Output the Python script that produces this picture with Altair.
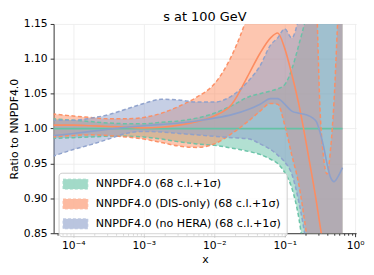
import altair as alt
import pandas as pd
import math

# x grid (momentum fraction)
x_vals = [5.01e-5, 1e-4, 1.778e-4, 3.162e-4, 5.623e-4, 1e-3, 1.778e-3, 3.162e-3,
          5.623e-3, 1e-2, 1.778e-2, 3.162e-2, 4.467e-2, 6.31e-2, 7.943e-2, 0.1,
          0.1259, 0.1585, 0.1995, 0.2512, 0.2818, 0.3162, 0.3548, 0.3981, 0.4467,
          0.5012, 0.5623, 0.6607]

set_labels = ["NNPDF4.0 (68 c.l.+1σ)",
              "NNPDF4.0 (DIS-only) (68 c.l.+1σ)",
              "NNPDF4.0 (no HERA) (68 c.l.+1σ)"]
set_colors = ["#66c2a5", "#fc8d62", "#8da0cb"]

green_mid = [1.0, 1.0, 1.0, 1.0, 1.0, 1.0, 1.0, 1.0, 1.0, 1.0, 1.0, 1.0, 1.0, 1.0,
             1.0, 1.0, 1.0, 1.0, 1.0, 1.0, 1.0, 1.0, 1.0, 1.0, 1.0, 1.0, 1.0, 1.0]
green_hi = [1.014, 1.012, 1.010, 1.008, 1.007, 1.007, 1.009, 1.011, 1.015, 1.022,
            1.033, 1.046, 1.050, 1.054, 1.057, 1.063, 1.085, 1.12, 1.16, 1.22,
            1.25, 1.28, 1.3, 1.3, 1.3, 1.3, 1.3, 1.3]
green_lo = [0.986, 0.987, 0.988, 0.989, 0.989, 0.988, 0.985, 0.981, 0.978, 0.976,
            0.972, 0.967, 0.963, 0.956, 0.950, 0.937, 0.915, 0.872, 0.80, 0.74,
            0.72, 0.70, 0.70, 0.70, 0.70, 0.70, 0.70, 0.70]

orange_mid = [1.005, 1.005, 1.004, 1.003, 1.002, 1.001, 1.002, 1.005, 1.010, 1.018,
              1.035, 1.080, 1.108, 1.130, 1.137, 1.115, 1.078, 1.035, 0.982, 0.925,
              0.895, 0.862, 0.83, 0.80, 0.77, 0.74, 0.72, 0.70]
orange_hi = [1.021, 1.018, 1.016, 1.014, 1.014, 1.016, 1.022, 1.032, 1.045, 1.064,
             1.105, 1.17, 1.22, 1.27, 1.3, 1.3, 1.3, 1.3, 1.3, 1.28,
             1.19, 1.03, 0.96, 0.935, 0.97, 1.04, 1.15, 1.3]
orange_lo = [0.988, 0.990, 0.991, 0.990, 0.988, 0.985, 0.980, 0.975, 0.973, 0.978,
             0.993, 1.012, 1.025, 1.036, 1.035, 1.005, 0.962, 0.92, 0.855, 0.78,
             0.75, 0.72, 0.70, 0.70, 0.70, 0.70, 0.70, 0.70]

blue_mid = [0.990, 0.993, 0.996, 0.999, 1.002, 1.004, 1.006, 1.008, 1.011, 1.015,
            1.020, 1.028, 1.035, 1.043, 1.043, 1.035, 1.025, 1.022, 1.020, 1.015,
            1.010, 0.995, 0.975, 0.95, 0.93, 0.924, 0.93, 0.944]
blue_hi = [1.012, 1.012, 1.015, 1.020, 1.028, 1.036, 1.042, 1.041, 1.038, 1.038,
           1.047, 1.07, 1.09, 1.12, 1.13, 1.143, 1.13, 1.16, 1.22, 1.3,
           1.3, 1.3, 1.3, 1.3, 1.3, 1.3, 1.3, 1.3]
blue_lo = [0.960, 0.970, 0.977, 0.985, 0.993, 0.996, 0.995, 0.993, 0.991, 0.989,
           0.987, 0.985, 0.978, 0.970, 0.962, 0.952, 0.935, 0.895, 0.84, 0.78,
           0.75, 0.72, 0.70, 0.70, 0.70, 0.70, 0.70, 0.70]

x_major = [1e-4, 1e-3, 1e-2, 1e-1, 1.0]
x_major_labels = ["10⁻⁴", "10⁻³", "10⁻²", "10⁻¹", "10⁰"]
y_ticks = [0.85, 0.90, 0.95, 1.00, 1.05, 1.10, 1.15]

series = [(green_mid, green_lo, green_hi),
          (orange_mid, orange_lo, orange_hi),
          (blue_mid, blue_lo, blue_hi)]
rows = []
for lab, (mid, lo, hi) in zip(set_labels, series):
    for xv, m, l, h in zip(x_vals, mid, lo, hi):
        rows.append({"x": xv, "set": lab, "mid": m, "lo": l, "hi": h})
df = pd.DataFrame(rows)

x_minor = [m * 10.0 ** k for k in range(-5, 1) for m in range(2, 10)
           if 5.25e-5 <= m * 10.0 ** k <= 1.03]
x_ticks = x_major + x_minor

logv = "log(datum.value)/LN10"
major_test = f"abs({logv} - round({logv})) < 0.001"
lab_expr = "''"
for v, t in zip(x_major, x_major_labels):
    e = int(round(math.log10(v)))
    lab_expr = f"(({major_test}) && round({logv}) == {e}) ? '{t}' : ({lab_expr})"

FONT = "DejaVu Sans"
xaxis = alt.Axis(values=x_ticks, labelExpr=lab_expr, labelOverlap=False,
                 labelFlush=False,
                 tickSize={"condition": {"test": major_test, "value": 3.5}, "value": 2},
                 gridOpacity={"condition": {"test": major_test, "value": 1}, "value": 0},
                 title="x")
yaxis = alt.Axis(values=y_ticks, format=".2f", title="Ratio to NNPDF4.0")

xs = alt.Scale(type="log", domain=[5.25e-5, 1.03])
ys = alt.Scale(domain=[0.85, 1.15])
cs = alt.Scale(domain=set_labels, range=set_colors)

leg = alt.Legend(title=None, orient="none", legendX=5, legendY=150,
                 symbolType="M-2.08,-0.83L2.08,-0.83L2.08,0.83L-2.08,0.83Z",
                 symbolSize=144, symbolOffset=5.5, symbolDash=[3, 2],
                 symbolStrokeWidth=1, symbolOpacity=0.6,
                 labelFont=FONT, labelFontSize=11.2, labelLimit=300,
                 labelOffset=14, rowPadding=5, padding=5,
                 fillColor="rgba(255,255,255,0.8)", strokeColor="#cccccc",
                 cornerRadius=3)

X = alt.X("x:Q", scale=xs, axis=xaxis)

layers = []
for lab in set_labels:
    base = alt.Chart(df).transform_filter(alt.datum.set == lab)
    layers.append(base.mark_area(opacity=0.5, clip=True, interpolate="monotone").encode(
        x=X, y=alt.Y("lo:Q", scale=ys, axis=yaxis), y2="hi:Q",
        fill=alt.Fill("set:N", scale=cs, legend=leg)))
for lab in set_labels:
    base = alt.Chart(df).transform_filter(alt.datum.set == lab)
    for fld in ["hi", "lo"]:
        layers.append(base.mark_line(strokeDash=[4, 2.5], strokeWidth=1.5, opacity=0.95,
                                     clip=True, interpolate="monotone").encode(
            x=X, y=alt.Y(f"{fld}:Q", scale=ys, axis=yaxis),
            stroke=alt.Stroke("set:N", scale=cs, legend=leg)))
    layers.append(base.mark_line(strokeWidth=1.6, clip=True, interpolate="monotone").encode(
        x=X, y=alt.Y("mid:Q", scale=ys, axis=yaxis),
        stroke=alt.Stroke("set:N", scale=cs, legend=leg)))

chart = alt.layer(*layers).properties(
    width=305, height=211,
    padding={"left": 46, "top": 15, "right": 10, "bottom": 36},
    autosize=alt.AutoSizeParams(type="none"),
    title=alt.Title("s at 100 GeV", font=FONT, fontSize=13, fontWeight="normal",
                    frame="group", baseline="alphabetic", offset=-16,
                    color="#000000"),
).configure_view(stroke=None).configure_axis(
    labelFont=FONT, labelFontSize=10.8, labelColor="#000000",
    titleFont=FONT, titleFontSize=11, titleFontWeight="normal", titleColor="#000000",
    domainColor="#333333", domainWidth=1, tickColor="#333333", tickWidth=1,
    gridColor="#ebebeb", gridWidth=0.8, labelPadding=3,
).configure_axisY(titlePadding=4, tickSize=3.5).configure_axisX(titlePadding=3)

chart.save("out.html", embed_options={"renderer": "svg", "actions": False})
